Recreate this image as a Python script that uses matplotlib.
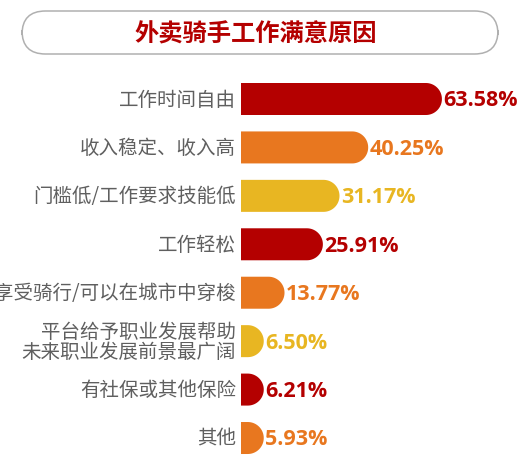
import numpy as np
import matplotlib
matplotlib.use('Agg')
import matplotlib.pyplot as plt
from matplotlib.patches import Polygon, FancyBboxPatch

plt.rcParams['font.family'] = ['Noto Sans CJK SC', 'DejaVu Sans']

title = '外卖骑手工作满意原因'
categories = ['工作时间自由', '收入稳定、收入高', '门槛低/工作要求技能低', '工作轻松',
              '享受骑行/可以在城市中穿梭', '平台给予职业发展帮助\n未来职业发展前景最广阔',
              '有社保或其他保险', '其他']
values = [63.58, 40.25, 31.17, 25.91, 13.77, 6.50, 6.21, 5.93]
palette = ['#B40000', '#E8771F', '#E8B622']

W, H, DPI = 521, 460, 100
fig = plt.figure(figsize=(W / DPI, H / DPI), dpi=DPI)

# axes spans the bar area, pixel-tuned
x0_px = 241
px_per_unit = 3.16
pitch = 48.43
top_px = 76
ax = fig.add_axes([x0_px / W, 0, 1 - x0_px / W, (H - top_px) / H])
ax.set_xlim(0, (W - x0_px) / px_per_unit)
ax.set_ylim((H - 100) / pitch, (top_px - 100) / pitch)
ax.axis('off')

bar_h = 32 / pitch          # in y units
r_x = 16 / px_per_unit      # cap radius in x units

for i, (cat, v) in enumerate(zip(categories, values)):
    c = palette[i % 3]
    w = max(v, 7.2)  # tiny bars keep a visible rounded cap
    rx = min(r_x, w)
    straight = w - rx
    t = np.linspace(np.pi / 2, -np.pi / 2, 40)
    arc_pts = np.column_stack([straight + rx * np.cos(t), i - (bar_h / 2) * np.sin(t)])
    pts = np.vstack([[[0, i - bar_h / 2]], arc_pts, [[0, i + bar_h / 2]]])
    ax.add_patch(Polygon(pts, closed=True, facecolor=c, edgecolor='none'))
    ax.text(w + 0.5, i + 0.02, f'{v:.2f}%', color=c, fontsize=15.5, fontweight='bold',
            ha='left', va='center', family=['Open Sans', 'DejaVu Sans'])
    ax.text(-1.6, i, cat, color='#5f5f5f', fontsize=14, ha='right', va='center',
            linespacing=0.92, clip_on=False)

# title box
box = FancyBboxPatch((22 / W, 1 - 55 / H), (498 - 22) / W, 43 / H,
                     boxstyle='round,pad=0,rounding_size=0.045', mutation_aspect=W / H,
                     transform=fig.transFigure, facecolor='white', edgecolor='#b0b0b0',
                     linewidth=1.1)
fig.patches.append(box)
fig.text(256 / W, 1 - 34 / H, title, color='#B40000', fontsize=17.5, fontweight='bold',
         ha='center', va='center')

fig.savefig('out.png', dpi=DPI)
